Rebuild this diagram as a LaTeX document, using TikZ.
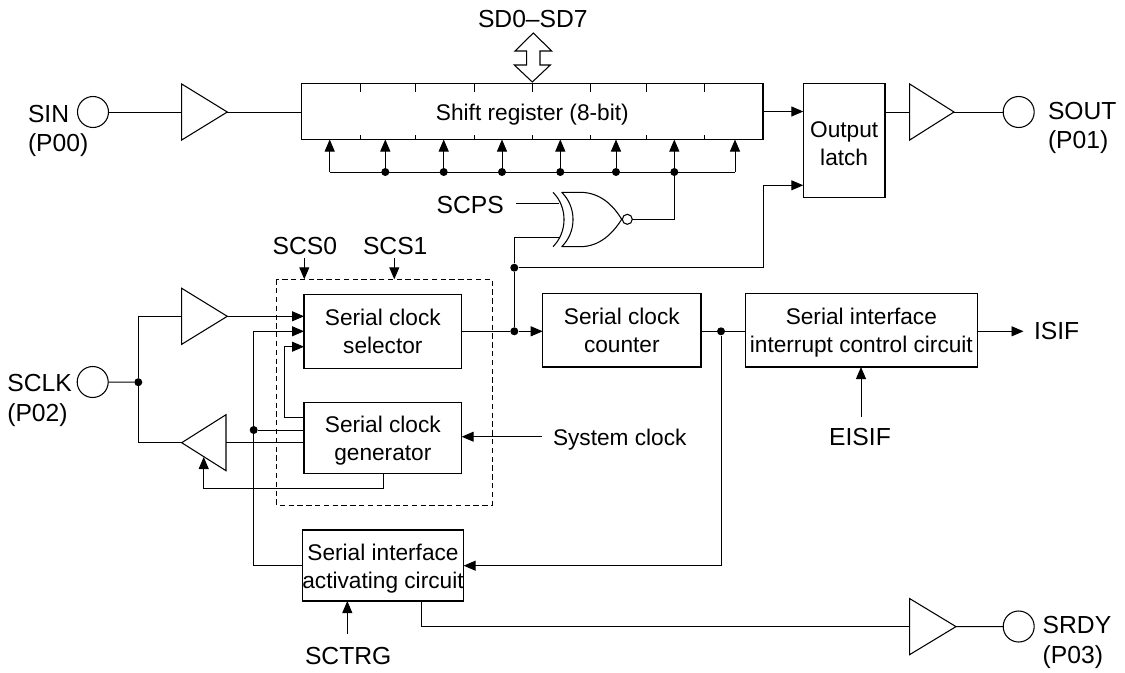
\documentclass[tikz,border=0pt]{standalone}
\usepackage{fontspec}
\setmainfont{Liberation Sans}
\usetikzlibrary{arrows.meta}
\tikzset{
  x=0.75pt,y=-0.75pt,
  wire/.style={line width=0.72pt,black,line join=miter},
  arr/.style={wire,-{Triangle[length=9pt,width=7.5pt]}},
  shape line/.style={line width=0.8pt,black},
  dot/.style={circle,fill=black,draw=none,inner sep=0pt,minimum size=6pt},
  pin/.style={circle,draw=black,line width=0.8pt,fill=white,inner sep=0pt,outer sep=0pt,minimum size=23.25pt},
  blk/.style={draw=black,line width=0.8pt,inner sep=0pt,outer sep=0pt,align=center},
  lab/.style={inner sep=0pt,outer sep=0pt,anchor=base west,font=\fontsize{18.5}{22}\selectfont},
  labc/.style={inner sep=0pt,outer sep=0pt,anchor=base,font=\fontsize{18.5}{22}\selectfont},
  labs/.style={inner sep=0pt,outer sep=0pt,anchor=base west,font=\fontsize{17}{21}\selectfont},
  every node/.append style={font=\fontsize{17}{21}\selectfont},
}
\newcommand\blknode[6]{%
  \node[blk,minimum width={(#4-#2)*0.75pt},minimum height={(#5-#3)*0.75pt}] (#1) at ({(#2+#4)/2},{(#3+#5)/2}) {#6};}
\newcommand\twol[2]{\rule{0pt}{16.5pt}#1\\#2\rule[-3.75pt]{0pt}{3.75pt}}
% name, x of flat side, y centre, x of tip, half height
\newcommand\buffer[5]{%
  \coordinate (#1flat) at (#2,#3);
  \coordinate (#1tip) at (#4,#3);
  \draw[shape line,line join=miter] (#2,#3-#5) -- (#1tip) -- (#2,#3+#5) -- cycle;}
\begin{document}
\begin{tikzpicture}
\useasboundingbox (0,0) rectangle (1125,672);

% main blocks
\blknode{sr}{301.7}{83.5}{763}{139.5}{\rule{0pt}{18pt}Shift register (8-bit)\rule[-4.2pt]{0pt}{4.2pt}}
\blknode{latch}{803.3}{83.7}{885}{197.7}{\rule{0pt}{20.25pt}Output\\latch\rule[-3.75pt]{0pt}{3.75pt}}
\blknode{sel}{304}{294.3}{461.7}{368.3}{\twol{Serial clock}{selector}}
\blknode{gen}{304}{402.3}{461.7}{473.3}{\twol{Serial clock}{generator}}
\blknode{cnt}{542.7}{293.7}{701}{367}{\twol{Serial clock}{counter}}
\blknode{irq}{745.4}{293.7}{977.3}{367}{\twol{Serial interface}{interrupt control circuit}}
\blknode{act}{304.3}{530}{461.7}{601}{\twol{Serial interface}{activating circuit}}
\draw[line width=0.7pt,dash pattern=on 4pt off 2.6pt] (276.7,279.3) rectangle (492,505);

% pins
\node[pin] (psin) at (93,112) {};
\node[pin] (psout) at (1018.7,112) {};
\node[pin] (psclk) at (92.7,382) {};
\node[pin] (psrdy) at (1018.7,626.5) {};

% labels
\node[lab] (tsin) at (28,122) {SIN};
\node[lab] (tsinp) at (28,151.7) {(P00)};
\node[lab] (tsout) at (1048,119) {SOUT};
\node[lab] (tsoutp) at (1048,148) {(P01)};
\node[lab] (tsclk) at (7.3,391.7) {SCLK};
\node[lab] (tsclkp) at (7.3,421) {(P02)};
\node[lab] (tsrdy) at (1042.7,633) {SRDY};
\node[lab] (tsrdyp) at (1042.7,663) {(P03)};
\node[lab] (tsd) at (478,27.7) {SD0–SD7};
\node[lab] (tscps) at (436.7,213.3) {SCPS};
\node[lab] (tscs0) at (272.7,254) {SCS0};
\node[lab] (tscs1) at (363,254) {SCS1};
\node[labs] (tsys) at (553,445) {System clock};
\node[lab] (tisif) at (1034,339) {ISIF};
\node[labc] (teisif) at (860,445.7) {EISIF};
\node[lab] (tsctrg) at (305,664) {SCTRG};

% buffers
\buffer{bin}{181.7}{112}{227.3}{28}
\buffer{bout}{909.7}{112}{954}{28}
\buffer{bclk}{181.7}{316.3}{227.3}{28}
\buffer{brx}{226}{442.7}{181.7}{28}
\buffer{brdy}{909.7}{626.6}{956}{28}

% bidirectional data bus
\coordinate (dtop) at (533.3,33);
\draw[shape line] (dtop) -- (551.7,51) -- (540,51) -- (540,65) -- (550.3,65) -- (532.3,82) -- (514.3,65) -- (526.7,65) -- (526.7,51) -- (515,51) -- cycle;

% register ticks
\foreach \x in {360,415.7,474.3,532.3,590.3,646.3,704.7}{
  \draw[wire] (\x,83.5) -- +(0,8);
  \draw[wire] (\x,139.5) -- +(0,-5);
}

% shift clock bus
\coordinate (bl) at (329.7,172);
\coordinate (br) at (735,172);
\draw[wire] (bl) -- (br);
\draw[arr] (bl) -- (bl |- sr.south);
\draw[arr] (br) -- (br |- sr.south);
\foreach \n/\x in {a/385.3,b/443.7,c/502,d/560.3,e/616,f/674.3}{
  \node[dot] (j\n) at (\x,172) {};
  \draw[arr] (j\n) -- (j\n |- sr.south);
}

% XNOR gate
\draw[shape line] (553,192.3) .. controls (567.7,207) and (567.7,232) .. (553,246.7);
\draw[shape line] (561.7,192.3) .. controls (576.8,207) and (576.8,232) .. (561.7,246.7);
\draw[shape line] (561.7,192.3) -- (580,192.3) .. controls (600,192.3) and (613,205) .. (621.7,219.3)
   .. controls (613,233) and (600,246.7) .. (580,246.7) -- (561.7,246.7);
\node[circle,draw=black,line width=0.8pt,inner sep=0pt,outer sep=0pt,minimum size=7.5pt] (xbub) at (627.3,219.3) {};
\coordinate (xa) at (559,203.3);
\coordinate (xb) at (559,237);
\coordinate (xs) at (516,203.3);
\draw[wire] (xs) -- (xa);
\draw[wire] (xbub.east) -| (jf);

% junctions
\node[dot] (jq) at (514.3,331.3) {};
\node[dot] (jl) at (514.3,267.7) {};
\node[dot] (jc) at (721,331.3) {};
\node[dot] (jk) at (138.3,382.2) {};
\node[dot] (jt) at (253.7,430) {};

% top row
\draw[wire] (psin) -- (binflat);
\draw[wire] (bintip) -- (sr.west |- bintip);
\draw[arr] (sr.east) -- (sr.east -| latch.west);
\draw[wire] (latch.east |- boutflat) -- (boutflat);
\draw[wire] (bouttip) -- (psout);

% counter clock and latch strobe
\draw[wire] (sel.east |- jq) -- (jq);
\draw[arr] (jq) -- (jq -| cnt.west);
\draw[wire] (jq) -- (jl) |- (xb);
\coordinate (lb) at (763,185.3);
\draw[arr] (jl) -| (lb) -- (lb -| latch.west);

% counter to interrupt
\draw[wire] (cnt.east |- jc) -- (jc) -- (jc -| irq.west);
\draw[arr] (irq.east |- jc) -- (1023.5,331.3);
\coordinate (ei) at (861,417);
\draw[arr] (ei) -- (ei |- irq.south);
\draw[arr] (jc) |- (act.east |- 0,565.7);

% clock inputs
\draw[wire] (psclk) -- (jk);
\draw[wire] (bclkflat) -| (jk);
\draw[wire] (jk) |- (brxtip);
\draw[arr] (bclktip) -- (sel.west |- bclktip);

% generator and selector wiring
\coordinate (s2) at (304,331.3);
\coordinate (s3) at (304,346.7);
\draw[arr] (act.west |- 0,565.7) -| (253.7,331.3) -- (s2);
\draw[wire] (gen.west |- jt) -- (jt);
\draw[arr] (gen.west |- 0,417.3) -| (284.7,346.7) -- (s3);
\draw[wire] (gen.west |- brxflat) -- (brxflat);
\coordinate (fb) at (383.3,473.3);
\coordinate (fbt) at (203.7,457);
\draw[arr] (fb) -- (383.3,488.3) -| (fbt);
\coordinate (sy) at (542,436.7);
\draw[arr] (sy) -- (sy -| gen.east);

% select inputs
\coordinate (c0) at (304.3,258);
\coordinate (c1) at (394.3,258);
\draw[arr] (c0) -- (304.3,279.3);
\draw[arr] (c1) -- (394.3,279.3);

% bottom
\coordinate (sc) at (347.3,634);
\draw[arr] (sc) -- (sc |- act.south);
\coordinate (ra) at (421,601);
\draw[wire] (ra) |- (brdyflat);
\draw[wire] (brdytip) -- (psrdy);
\end{tikzpicture}
\end{document}
